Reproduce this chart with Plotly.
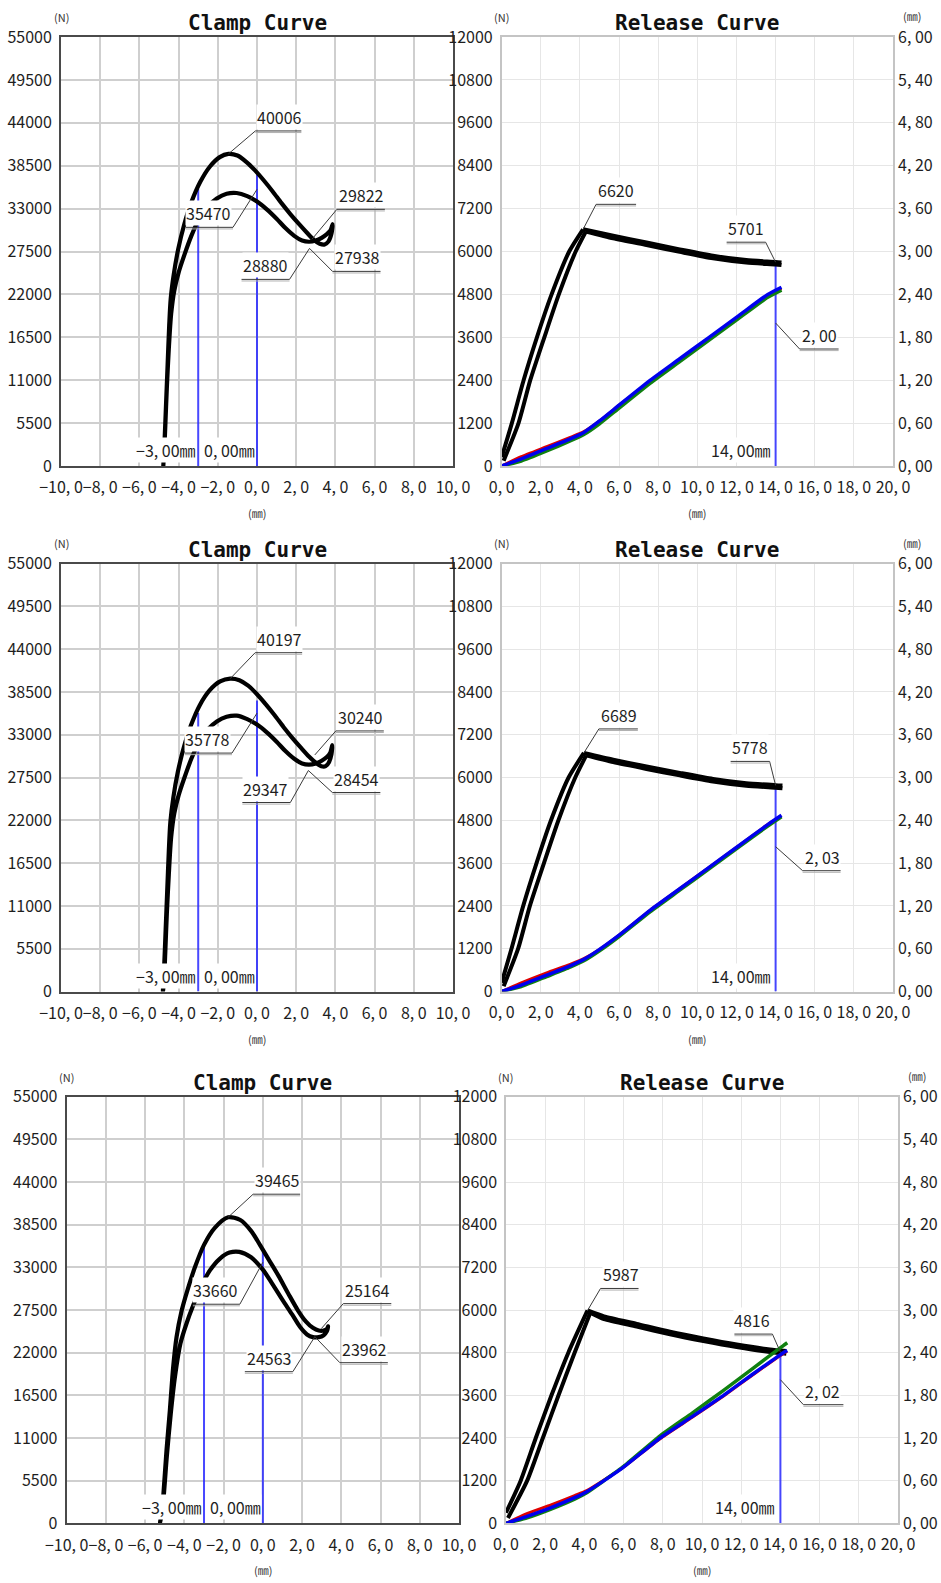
import plotly.graph_objects as go

W, H = 941, 1583
FONT = "Noto Sans CJK JP, Noto Sans, sans-serif"
TITLE_FONT = "DejaVu Sans Mono, Liberation Mono, monospace"

# ---------------- tick values / labels ----------------
clamp_xticks = [-10, -8, -6, -4, -2, 0, 2, 4, 6, 8, 10]
clamp_xlabels = ["−10, 0", "−8, 0", "−6, 0", "−4, 0", "−2, 0", "0, 0", "2, 0", "4, 0", "6, 0", "8, 0", "10, 0"]
clamp_yticks = [0, 5500, 11000, 16500, 22000, 27500, 33000, 38500, 44000, 49500, 55000]
rel_xticks = [0, 2, 4, 6, 8, 10, 12, 14, 16, 18, 20]
rel_xlabels = ["0, 0", "2, 0", "4, 0", "6, 0", "8, 0", "10, 0", "12, 0", "14, 0", "16, 0", "18, 0", "20, 0"]
rel_yticks = [0, 1200, 2400, 3600, 4800, 6000, 7200, 8400, 9600, 10800, 12000]
rel_y2ticks = [0, 0.6, 1.2, 1.8, 2.4, 3.0, 3.6, 4.2, 4.8, 5.4, 6.0]
rel_y2labels = ["0, 00", "0, 60", "1, 20", "1, 80", "2, 40", "3, 00", "3, 60", "4, 20", "4, 80", "5, 40", "6, 00"]

# ---------------- clamp curves (stroke mm, force N) ----------------
clamp1_fwd_x = [-4.78, -4.72, -4.64, -4.56, -4.48, -4.40, -4.25, -4.02, -3.72, -3.35, -2.90, -2.40, -1.90, -1.46, -1.00, -0.55, -0.10, 0.35, 0.80, 1.25, 1.70, 2.15, 2.55, 2.90, 3.20, 3.45, 3.65, 3.80, 3.86]
clamp1_fwd_y = [0, 3000, 8000, 13000, 18000, 21500, 24500, 27800, 30900, 33800, 36400, 38400, 39600, 40006, 39800, 39000, 37900, 36600, 35200, 33700, 32300, 31000, 29900, 29000, 28500, 28400, 28800, 29800, 31000]
clamp1_ret_x = [3.75, 3.55, 3.30, 3.00, 2.65, 2.30, 1.90, 1.45, 1.00, 0.50, 0.00, -0.50, -1.04, -1.55, -2.05, -2.50, -2.95, -3.35, -3.70, -4.00, -4.22, -4.38, -4.50, -4.60, -4.68, -4.74, -4.78]
clamp1_ret_y = [30200, 29700, 29250, 28900, 28750, 28900, 29500, 30500, 31700, 32900, 33900, 34600, 35000, 34900, 34300, 33300, 31700, 29500, 27100, 24800, 22500, 19500, 15000, 10000, 5000, 1500, 0]

clamp2_fwd_x = [-4.80, -4.74, -4.66, -4.58, -4.50, -4.42, -4.27, -4.04, -3.74, -3.37, -2.92, -2.42, -1.88, -1.37, -0.90, -0.45, 0.00, 0.45, 0.90, 1.35, 1.80, 2.25, 2.65, 3.00, 3.28, 3.50, 3.68, 3.80, 3.84]
clamp2_fwd_y = [0, 3000, 8000, 13000, 18000, 21800, 24900, 28200, 31300, 34200, 36800, 38700, 39850, 40197, 40000, 39300, 38200, 36900, 35500, 34000, 32600, 31300, 30200, 29400, 28950, 28950, 29500, 30500, 31650]
clamp2_ret_x = [3.74, 3.55, 3.30, 3.00, 2.65, 2.30, 1.90, 1.45, 1.00, 0.50, 0.00, -0.50, -1.04, -1.55, -2.05, -2.50, -2.95, -3.35, -3.70, -4.00, -4.22, -4.38, -4.50, -4.60, -4.68, -4.74, -4.80]
clamp2_ret_y = [30700, 30100, 29650, 29300, 29150, 29300, 29900, 30900, 32100, 33300, 34300, 35000, 35450, 35300, 34700, 33700, 32100, 29900, 27500, 25200, 22900, 19800, 15000, 10000, 5000, 1500, 0]

clamp3_fwd_x = [-5.25, -5.15, -5.08, -4.91, -4.74, -4.57, -4.40, -4.15, -3.85, -3.45, -3.00, -2.45, -1.77, -1.15, -0.60, -0.15, 0.30, 0.80, 1.30, 1.80, 2.20, 2.55, 2.85, 3.10, 3.28, 3.33]
clamp3_fwd_y = [0, 1500, 3400, 9450, 14600, 20200, 24000, 27300, 30000, 33100, 35900, 38100, 39465, 39100, 37700, 35900, 34000, 31900, 29600, 27400, 26000, 25200, 24850, 24850, 25100, 25400]
clamp3_ret_x = [3.26, 3.10, 2.85, 2.55, 2.25, 1.90, 1.50, 1.00, 0.50, 0.00, -0.60, -1.20, -1.70, -2.20, -2.70, -3.15, -3.55, -3.90, -4.20, -4.48, -4.70, -4.90, -5.05, -5.15, -5.25]
clamp3_ret_y = [24750, 24250, 24000, 24000, 24350, 25300, 26900, 28800, 30800, 32700, 34300, 35000, 34900, 34100, 32600, 30500, 28100, 25700, 23200, 18900, 14000, 8500, 3600, 1300, 0]

# clamp marker lines (mm) and their heights (N)
clamp_marker_x = [-3.0, 0.0]
clamp_marker_text = ["−3, 00㎜", "0, 00㎜"]
clamp1_marker_top = [35500, 37300]
clamp2_marker_top = [35800, 37400]
clamp3_marker_top = [35700, 35000]

# clamp callouts: (x, y, label)
clamp1_callouts = [(-1.46, 40006, "40006"), (0.0, 35470, "35470"), (2.80, 29060, "29822"), (2.68, 27900, "28880"), (2.68, 27900, "27938")]
clamp2_callouts = [(-1.37, 40197, "40197"), (0.0, 35778, "35778"), (2.95, 30400, "30240"), (2.62, 28400, "29347"), (2.62, 28400, "28454")]
clamp3_callouts = [(-1.77, 39465, "39465"), (0.0, 33660, "33660"), (2.98, 25100, "25164"), (2.65, 24060, "24563"), (2.65, 24060, "23962")]

# ---------------- release curves (stroke mm, force N / displacement mm) ----------------
rel1_up_x = [0.0, 0.52, 1.12, 1.80, 2.55, 3.45, 4.16]
rel1_up_y = [250, 1200, 2400, 3600, 4800, 6000, 6620]
rel1_down_x = [4.16, 5.70, 7.40, 9.10, 10.80, 12.50, 14.00, 14.30]
rel1_down_y = [6620, 6440, 6250, 6060, 5880, 5760, 5705, 5690]
rel1_back_x = [14.30, 14.00, 12.50, 10.80, 9.10, 7.40, 5.70, 4.30]
rel1_back_y = [5620, 5635, 5690, 5810, 5990, 6180, 6370, 6560]
rel1_in_x = [4.30, 3.78, 2.92, 2.18, 1.46, 0.86, 0.10]
rel1_in_y = [6560, 6000, 4800, 3600, 2400, 1200, 150]
rel1_disp_x = [0.0, 1.0, 2.3, 3.5, 4.2, 5.0, 6.0, 7.6, 9.1, 10.6, 12.1, 13.6, 14.3]
rel1_blue = [0.0, 0.10, 0.245, 0.38, 0.47, 0.63, 0.85, 1.20, 1.50, 1.80, 2.10, 2.40, 2.50]
rel1_green = [0.0, 0.07, 0.21, 0.35, 0.44, 0.59, 0.81, 1.16, 1.46, 1.76, 2.06, 2.36, 2.46]
rel1_red = [0.0, 0.13, 0.27, 0.40, 0.48, 0.63, 0.85, 1.19, 1.49, 1.79, 2.09, 2.39, 2.48]

rel2_up_x = [0.0, 0.50, 1.10, 1.78, 2.52, 3.42, 4.20]
rel2_up_y = [250, 1200, 2400, 3600, 4800, 6000, 6689]
rel2_down_x = [4.20, 5.70, 7.40, 9.10, 10.80, 12.50, 14.00, 14.35]
rel2_down_y = [6689, 6500, 6310, 6130, 5960, 5840, 5785, 5775]
rel2_back_x = [14.35, 14.00, 12.50, 10.80, 9.10, 7.40, 5.70, 4.32]
rel2_back_y = [5700, 5715, 5770, 5890, 6060, 6240, 6430, 6620]
rel2_in_x = [4.32, 3.76, 2.90, 2.16, 1.44, 0.84, 0.10]
rel2_in_y = [6620, 6000, 4800, 3600, 2400, 1200, 150]
rel2_disp_x = [0.0, 1.0, 2.3, 3.5, 4.2, 5.0, 6.0, 7.6, 9.1, 10.6, 12.1, 13.6, 14.3]
rel2_blue = [0.0, 0.09, 0.23, 0.36, 0.45, 0.59, 0.79, 1.14, 1.44, 1.74, 2.04, 2.34, 2.47]
rel2_green = [0.0, 0.07, 0.21, 0.34, 0.43, 0.57, 0.77, 1.12, 1.42, 1.72, 2.02, 2.32, 2.45]
rel2_red = [0.0, 0.12, 0.26, 0.38, 0.46, 0.59, 0.79, 1.14, 1.44, 1.74, 2.04, 2.34, 2.46]

rel3_up_x = [0.0, 0.75, 1.52, 2.32, 3.18, 4.16]
rel3_up_y = [300, 1200, 2400, 3600, 4800, 5987]
rel3_down_x = [4.16, 5.00, 6.67, 8.37, 10.07, 11.77, 13.47, 14.30]
rel3_down_y = [5987, 5820, 5610, 5390, 5200, 5030, 4890, 4845]
rel3_back_x = [14.30, 13.47, 11.77, 10.07, 8.37, 6.67, 5.00, 4.30]
rel3_back_y = [4770, 4815, 4955, 5125, 5315, 5535, 5745, 5925]
rel3_in_x = [4.30, 3.50, 2.68, 1.88, 1.08, 0.10]
rel3_in_y = [5925, 4800, 3600, 2400, 1200, 150]
rel3_disp_x = [0.0, 1.0, 2.3, 3.5, 4.12, 5.0, 6.0, 7.86, 9.5, 11.1, 12.6, 14.15, 14.35]
rel3_blue = [0.0, 0.09, 0.22, 0.36, 0.445, 0.60, 0.79, 1.20, 1.50, 1.80, 2.10, 2.40, 2.43]
rel3_green = [0.0, 0.07, 0.20, 0.34, 0.43, 0.60, 0.80, 1.23, 1.55, 1.87, 2.18, 2.50, 2.54]
rel3_red = [0.0, 0.13, 0.26, 0.39, 0.46, 0.61, 0.79, 1.19, 1.49, 1.79, 2.09, 2.39, 2.42]

rel_marker_x = 14.0
rel_marker_text = "14, 00㎜"
rel_marker_top = [5650, 5740, 4790]

# release callouts: (x, y, label, axis) axis: "N" left, "mm" right
rel1_callouts = [(4.16, 6620, "6620", "N"), (14.0, 5701, "5701", "N"), (14.0, 2.00, "2, 00", "mm")]
rel2_callouts = [(4.20, 6689, "6689", "N"), (14.0, 5778, "5778", "N"), (14.0, 2.03, "2, 03", "mm")]
rel3_callouts = [(4.16, 5987, "5987", "N"), (14.0, 4816, "4816", "N"), (14.0, 2.02, "2, 02", "mm")]

# ---------------- styling / layout (pixels) ----------------
row_y = [(37, 466), (563.5, 991.5), (1096.7, 1523.3)]
clamp_px = [(61, 453), (61, 453), (66.7, 459)]
rel_px = [(501.7, 893), (501.7, 893), (506, 898)]
# callout styles: (dx, dy, direction, underline length) in pixels, y up
clamp_callout_style = [
    [(27, 23, 1, 46), (-24, -38, -1, 47), (25, 30, 1, 48), (-20, -31, -1, 48), (23, -23, 1, 48)],
    [(25, 26, 1, 47), (-25, -40, -1, 47), (21, 24, 1, 48), (-18, -32, -1, 48), (24, -22, 1, 48)],
    [(25, 23, 1, 47), (-23, -42, -1, 47), (22, 25, 1, 48), (-22, -35, -1, 48), (25, -26, 1, 48)],
]
rel_callout_style = [
    [(13, 25, 1, 40), (-10, 20, -1, 39), (24, -26, 1, 39)],
    [(15, 24, 1, 39), (-6, 24, -1, 39), (27, -24, 1, 38)],
    [(13, 22, 1, 38), (-8, 18, -1, 38), (23, -25, 1, 40)],
]

clamp_rows = [
    (clamp1_fwd_x, clamp1_fwd_y, clamp1_ret_x, clamp1_ret_y, clamp1_marker_top, clamp1_callouts),
    (clamp2_fwd_x, clamp2_fwd_y, clamp2_ret_x, clamp2_ret_y, clamp2_marker_top, clamp2_callouts),
    (clamp3_fwd_x, clamp3_fwd_y, clamp3_ret_x, clamp3_ret_y, clamp3_marker_top, clamp3_callouts),
]
rel_rows = [
    ((rel1_up_x, rel1_up_y), (rel1_down_x, rel1_down_y), (rel1_back_x, rel1_back_y), (rel1_in_x, rel1_in_y),
     rel1_disp_x, rel1_blue, rel1_green, rel1_red, rel1_callouts),
    ((rel2_up_x, rel2_up_y), (rel2_down_x, rel2_down_y), (rel2_back_x, rel2_back_y), (rel2_in_x, rel2_in_y),
     rel2_disp_x, rel2_blue, rel2_green, rel2_red, rel2_callouts),
    ((rel3_up_x, rel3_up_y), (rel3_down_x, rel3_down_y), (rel3_back_x, rel3_back_y), (rel3_in_x, rel3_in_y),
     rel3_disp_x, rel3_blue, rel3_green, rel3_red, rel3_callouts),
]

TICKFONT = dict(family=FONT, size=16, color="#1e1e1e")
LBL_FONT = dict(family=FONT, size=16, color="#1e1e1e")
UNIT_FONT = dict(family=FONT, size=11, color="#333333")
MARKER_BLUE = "rgba(40,40,255,0.85)"


def xdom(p):
    return [p[0] / W, p[1] / W]


def ydom(p):
    return [1 - p[1] / H, 1 - p[0] / H]


def key(prefix, n):
    return prefix if n == 1 else f"{prefix}{n}"


def base_axis(frame_color, frame_w, grid_color, grid_w):
    return dict(showline=True, linecolor=frame_color, linewidth=frame_w, mirror=True,
                showgrid=True, gridcolor=grid_color, gridwidth=grid_w, zeroline=False,
                ticks="", tickfont=TICKFONT, fixedrange=True, tickangle=0, automargin=False)


fig = go.Figure()
layout = dict(width=W, height=H, margin=dict(l=0, r=0, t=0, b=0, pad=0, autoexpand=False), showlegend=False,
              paper_bgcolor="white", plot_bgcolor="white")
annotations = []
shapes = []


def add_callout(xr, yr, x, y, text, style):
    dx, dy, d, L = style
    shapes.append(dict(type="path", xref=xr, yref=yr, xsizemode="pixel", ysizemode="pixel",
                       xanchor=x, yanchor=y, layer="above",
                       path=f"M0,0 L{dx},{dy} L{dx + d * L},{dy}",
                       line=dict(color="#3a3a3a", width=1)))
    shapes.append(dict(type="path", xref=xr, yref=yr, xsizemode="pixel", ysizemode="pixel",
                       xanchor=x, yanchor=y, layer="above",
                       path=f"M{dx},{dy - 1.6} L{dx + d * L},{dy - 1.6}",
                       line=dict(color="#b0b0b0", width=1)))
    annotations.append(dict(xref=xr, yref=yr, x=x, y=y, text=text, showarrow=False,
                            xanchor="left" if d > 0 else "right", yanchor="bottom",
                            xshift=dx + d * 1, yshift=dy + 1, borderpad=0, bgcolor="white",
                            font=LBL_FONT))


def spline(color, width, smoothing=0.6):
    return dict(color=color, width=width, shape="spline", smoothing=smoothing)


for r in range(3):
    ybox = row_y[r]
    cxn, rxn = 2 * r + 1, 2 * r + 2
    cyn, ryn, ry2n = 3 * r + 1, 3 * r + 2, 3 * r + 3
    cx, cy = key("x", cxn), key("y", cyn)
    rx, ry, ry2 = key("x", rxn), key("y", ryn), key("y", ry2n)

    # ---- clamp axes ----
    ax = base_axis("#4a4a4a", 2, "#cfcfcf", 1.6)
    ax.update(domain=xdom(clamp_px[r]), range=[-10, 10], tickvals=clamp_xticks, ticktext=clamp_xlabels,
              anchor=cy, ticklabelstandoff=6)
    layout[key("xaxis", cxn)] = ax
    ay = base_axis("#4a4a4a", 2, "#cfcfcf", 1.6)
    ay.update(domain=ydom(ybox), range=[0, 55000], tickvals=clamp_yticks,
              ticktext=[str(v) for v in clamp_yticks], anchor=cx, ticklabelstandoff=4)
    layout[key("yaxis", cyn)] = ay

    # ---- release axes ----
    bx = base_axis("#c4c4c4", 1.5, "#e6e6e6", 1)
    bx.update(domain=xdom(rel_px[r]), range=[0, 20], tickvals=rel_xticks, ticktext=rel_xlabels,
              anchor=ry, ticklabelstandoff=6)
    layout[key("xaxis", rxn)] = bx
    by = base_axis("#c4c4c4", 1.5, "#e6e6e6", 1)
    by.update(domain=ydom(ybox), range=[0, 12000], tickvals=rel_yticks,
              ticktext=[str(v) for v in rel_yticks], anchor=rx, ticklabelstandoff=4)
    layout[key("yaxis", ryn)] = by
    layout[key("yaxis", ry2n)] = dict(overlaying=ry, side="right", anchor=rx, range=[0, 6],
                                      tickvals=rel_y2ticks, ticktext=rel_y2labels, showgrid=False,
                                      showline=False, zeroline=False, ticks="", tickfont=TICKFONT,
                                      fixedrange=True, ticklabelstandoff=4, automargin=False)

    # ---- clamp traces ----
    fx, fy, bxs, bys, mtop, callouts = clamp_rows[r]
    for mx, top in zip(clamp_marker_x, mtop):
        fig.add_trace(go.Scatter(x=[mx, mx], y=[0, top], mode="lines", xaxis=cx, yaxis=cy,
                                 line=dict(color=MARKER_BLUE, width=2), hoverinfo="skip"))
    fig.add_trace(go.Scatter(x=fx + bxs, y=fy + bys, mode="lines", xaxis=cx, yaxis=cy,
                             line=spline("black", 4.2, 0.8)))
    for mx, t in zip(clamp_marker_x, clamp_marker_text):
        annotations.append(dict(xref=cx, yref=cy, x=mx, y=0, text=t, showarrow=False,
                                xanchor="right", yanchor="bottom", xshift=-1, yshift=3,
                                borderpad=0, bgcolor="white", font=LBL_FONT))
    for (x, y, t), st in zip(callouts, clamp_callout_style[r]):
        add_callout(cx, cy, x, y, t, st)

    # ---- release traces ----
    up, down, back, inner, dx_, blue, green, red, rcall = rel_rows[r]
    fig.add_trace(go.Scatter(x=[rel_marker_x, rel_marker_x], y=[0, rel_marker_top[r]], mode="lines",
                             xaxis=rx, yaxis=ry, line=dict(color=MARKER_BLUE, width=2), hoverinfo="skip"))
    for seg in (up, down, back, inner):
        fig.add_trace(go.Scatter(x=seg[0], y=seg[1], mode="lines", xaxis=rx, yaxis=ry,
                                 line=spline("black", 4, 0.6)))
    fig.add_trace(go.Scatter(x=dx_, y=red, mode="lines", xaxis=rx, yaxis=ry2,
                             line=spline("#e00000", 3, 0.5)))
    fig.add_trace(go.Scatter(x=dx_, y=green, mode="lines", xaxis=rx, yaxis=ry2,
                             line=spline("#108010", 3.5, 0.5)))
    fig.add_trace(go.Scatter(x=dx_, y=blue, mode="lines", xaxis=rx, yaxis=ry2,
                             line=spline("#0000ee", 3.5, 0.5)))
    annotations.append(dict(xref=rx, yref=ry, x=rel_marker_x, y=0, text=rel_marker_text, showarrow=False,
                            xanchor="right", yanchor="bottom", xshift=-4, yshift=3,
                            borderpad=0, bgcolor="white", font=LBL_FONT))
    for (x, y, t, a), st in zip(rcall, rel_callout_style[r]):
        add_callout(rx, ry if a == "N" else ry2, x, y, t, st)

    # ---- titles and units ----
    top, bot = ybox
    for (p0, p1), title in ((clamp_px[r], "Clamp Curve"), (rel_px[r], "Release Curve")):
        mid = (p0 + p1) / 2
        annotations.append(dict(xref="paper", yref="paper", x=mid / W, y=1 - (top - 14) / H,
                                text=f"<b>{title}</b>", showarrow=False, xanchor="center", yanchor="middle",
                                font=dict(family=TITLE_FONT, size=21, color="#111111")))
        annotations.append(dict(xref="paper", yref="paper", x=mid / W, y=1 - (bot + 47) / H,
                                text="(㎜)", showarrow=False, xanchor="center", yanchor="middle",
                                font=UNIT_FONT))
        annotations.append(dict(xref="paper", yref="paper", x=p0 / W, y=1 - (top - 20) / H,
                                text="(N)", showarrow=False, xanchor="center", yanchor="middle",
                                font=UNIT_FONT))
    annotations.append(dict(xref="paper", yref="paper", x=(rel_px[r][1] + 19) / W, y=1 - (top - 21) / H,
                            text="(㎜)", showarrow=False, xanchor="center", yanchor="middle",
                            font=UNIT_FONT))

layout["annotations"] = annotations
layout["shapes"] = shapes
fig.update_layout(**layout)

fig.write_html("out.html", config={"displayModeBar": False},
               post_script="document.body.style.margin='0px';")
